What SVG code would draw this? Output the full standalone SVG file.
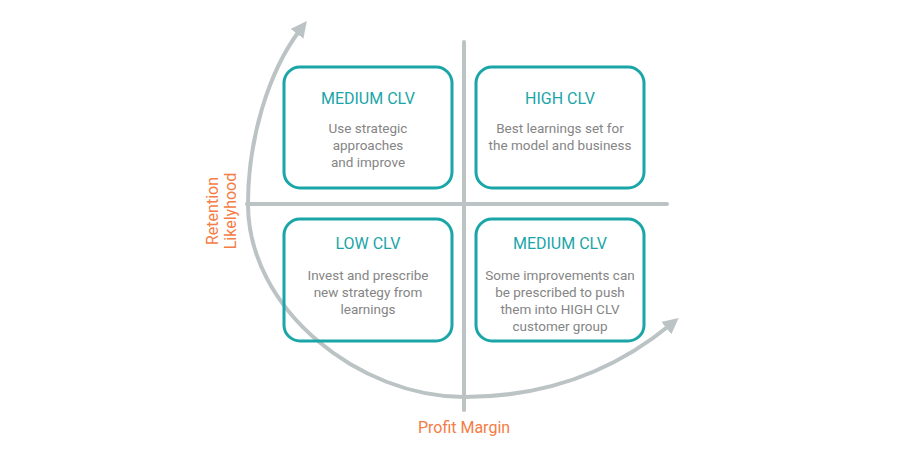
<svg xmlns="http://www.w3.org/2000/svg" width="900" height="450" viewBox="0 0 900 450">
<style>
.axis{stroke:#bcc3c4;stroke-width:4;fill:none;stroke-linecap:round}
.box{fill:none;stroke:#1aa5a8;stroke-width:3}
.title{font-family:Roboto,"Liberation Sans",sans-serif;font-size:16px;fill:#1aa5a8;text-anchor:middle}
.body{font-family:Roboto,"Liberation Sans",sans-serif;font-size:13.5px;fill:#858585;text-anchor:middle}
.lab{font-family:Roboto,"Liberation Sans",sans-serif;font-size:16px;fill:#f47c45;text-anchor:middle}
</style>
<defs>
<marker id="ah" viewBox="0 0 10 10" refX="3" refY="5" markerWidth="16" markerHeight="16" markerUnits="userSpaceOnUse" orient="auto-start-reverse">
<path d="M0,0 L10,5 L0,10 z" fill="#bcc3c4"/>
</marker>
</defs>
<rect width="900" height="450" fill="#fff"/>
<g id="connectors">
<line class="axis" x1="464" y1="42" x2="464" y2="410"/>
<line class="axis" x1="247" y1="204" x2="667" y2="204"/>
<path class="axis" d="M300,30 C268,72 248,140 248,204 C248,310 360,397 464,397 C560,397 625,362 670,325" marker-start="url(#ah)" marker-end="url(#ah)"/>
</g>
<g id="medium-clv-top">
<rect class="box" x="284" y="67" width="168" height="121" rx="16"/>
<text class="title" x="368" y="104">MEDIUM CLV</text>
<text class="body" x="368" y="133">Use strategic</text>
<text class="body" x="368" y="150">approaches</text>
<text class="body" x="368" y="167">and improve</text>
</g>
<g id="high-clv">
<rect class="box" x="476" y="67" width="168" height="121" rx="16"/>
<text class="title" x="560" y="104">HIGH CLV</text>
<text class="body" x="560" y="133">Best learnings set for</text>
<text class="body" x="560" y="150">the model and business</text>
</g>
<g id="low-clv">
<rect class="box" x="284" y="219" width="168" height="122" rx="16"/>
<text class="title" x="368" y="249">LOW CLV</text>
<text class="body" x="368" y="280">Invest and prescribe</text>
<text class="body" x="368" y="297">new strategy from</text>
<text class="body" x="368" y="314">learnings</text>
</g>
<g id="medium-clv-bottom">
<rect class="box" x="476" y="219" width="168" height="122" rx="16"/>
<text class="title" x="560" y="249">MEDIUM CLV</text>
<text class="body" x="560" y="280">Some improvements can</text>
<text class="body" x="560" y="297">be prescribed to push</text>
<text class="body" x="560" y="314">them into HIGH CLV</text>
<text class="body" x="560" y="331">customer group</text>
</g>
<g id="labels">
<text class="lab" x="464" y="433">Profit Margin</text>
<text class="lab" transform="translate(218,211) rotate(-90)">Retention</text>
<text class="lab" transform="translate(236,211) rotate(-90)">Likelyhood</text>
</g>
</svg>
